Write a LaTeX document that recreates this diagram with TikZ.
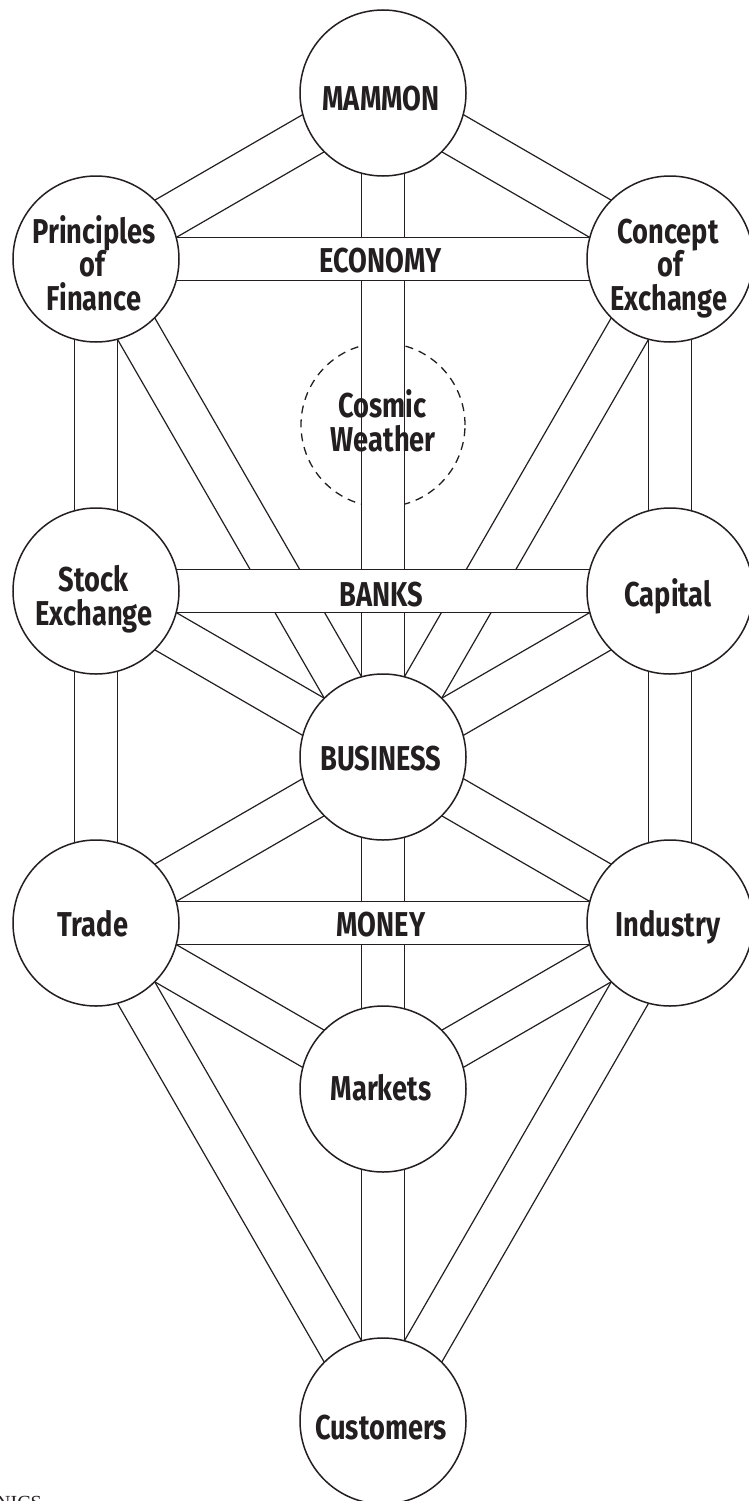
\documentclass[tikz,border=0pt]{standalone}
\usepackage{fontspec}
\usetikzlibrary{calc}
\newfontfamily\labfont{Fira Sans Bold}[FakeStretch=0.79]
\newfontfamily\capfont{Liberation Serif}
\definecolor{ink}{RGB}{35,31,32}
\pgfdeclarelayer{paper}
\pgfdeclarelayer{dashlayer}
\pgfdeclarelayer{chanlayer}
\pgfdeclarelayer{bandlayer}
\pgfsetlayers{paper,dashlayer,chanlayer,bandlayer,main}
\tikzset{
  chanline/.style={draw=ink, line width=1.2pt},
  tolcircle/.style={circle, draw=ink, line width=1.5pt, fill=white, minimum size=166pt, inner sep=0pt},
  cwcircle/.style={circle, draw=ink, line width=1.3pt, dash pattern=on 8pt off 6pt, minimum size=164pt, inner sep=0pt},
  lab/.style={font=\labfont\fontsize{34.5}{40}\selectfont, text=ink, inner sep=0pt, anchor=base},
}
\newcommand\tolpath[3][chanlayer]{%
 \begin{pgfonlayer}{#1}
  \fill[white] ($(#2.center)!21.5pt!90:(#3.center)$) -- ($(#3.center)!21.5pt!-90:(#2.center)$) -- ($(#3.center)!21.5pt!90:(#2.center)$) -- ($(#2.center)!21.5pt!-90:(#3.center)$) -- cycle;
  \draw[chanline] ($(#2.center)!21.5pt!90:(#3.center)$) -- ($(#3.center)!21.5pt!-90:(#2.center)$);
  \draw[chanline] ($(#2.center)!21.5pt!-90:(#3.center)$) -- ($(#3.center)!21.5pt!90:(#2.center)$);
 \end{pgfonlayer}}
\begin{document}
\begin{tikzpicture}[x=1pt,y=-1pt]
\begin{pgfonlayer}{paper}
\fill[white] (0,0) rectangle (748,1501);
\end{pgfonlayer}
\useasboundingbox (0,0) rectangle (748,1501);
% spheres
\node[tolcircle] (mammon) at (383,93) {};
\node[tolcircle] (pf) at (96,259) {};
\node[tolcircle] (ce) at (670,259) {};
\node[tolcircle] (se) at (96,591) {};
\node[tolcircle] (cap) at (670,591) {};
\node[tolcircle] (bus) at (383,757) {};
\node[tolcircle] (trade) at (96,923) {};
\node[tolcircle] (ind) at (670,923) {};
\node[tolcircle] (mkt) at (383,1089) {};
\node[tolcircle] (cust) at (383,1421) {};
\begin{pgfonlayer}{dashlayer}
\node[cwcircle] (cosmic) at (383,425) {};
\end{pgfonlayer}
% paths
\tolpath{mammon}{pf}
\tolpath{mammon}{ce}
\tolpath{mammon}{bus}
\tolpath{pf}{se}
\tolpath{pf}{bus}
\tolpath{ce}{cap}
\tolpath{ce}{bus}
\tolpath{se}{bus}
\tolpath{cap}{bus}
\tolpath{se}{trade}
\tolpath{cap}{ind}
\tolpath{bus}{trade}
\tolpath{bus}{ind}
\tolpath{bus}{mkt}
\tolpath{trade}{mkt}
\tolpath{ind}{mkt}
\tolpath{trade}{cust}
\tolpath{ind}{cust}
\tolpath{mkt}{cust}
\tolpath[bandlayer]{pf}{ce}
\tolpath[bandlayer]{se}{cap}
\tolpath[bandlayer]{trade}{ind}
% labels
\node[lab] (tmammon) at (381,110.7) {MAMMON};
\node[lab] (tpf1) at (94,243) {Principles};
\node[lab] (tpf2) at (92.5,276) {of};
\node[lab] (tpf3) at (94,310) {Finance};
\node[lab] (tce1) at (668,243) {Concept};
\node[lab] (tce2) at (670,276) {of};
\node[lab] (tce3) at (668.7,310) {Exchange};
\node[lab] (teco) at (380.5,272.7) {ECONOMY};
\node[lab] (tcw1) at (382.5,417) {Cosmic};
\node[lab] (tcw2) at (383.3,451.7) {Weather};
\node[lab] (tse1) at (93.7,591.7) {Stock};
\node[lab] (tse2) at (94,625) {Exchange};
\node[lab] (tbanks) at (381,606.7) {BANKS};
\node[lab] (tcap) at (668,606.7) {Capital};
\node[lab] (tbus) at (381,770.7) {BUSINESS};
\node[lab] (ttrade) at (93,936) {Trade};
\node[lab] (tmoney) at (381,936) {MONEY};
\node[lab] (tind) at (668,936) {Industry};
\node[lab] (tmkt) at (381,1100.7) {Markets};
\node[lab] (tcust) at (381,1439) {Customers};
\node[anchor=base west, font=\capfont\fontsize{20}{20}\selectfont, inner sep=0pt, text=ink] (capfrag) at (-4,1509) {NICS};
\end{tikzpicture}
\end{document}
